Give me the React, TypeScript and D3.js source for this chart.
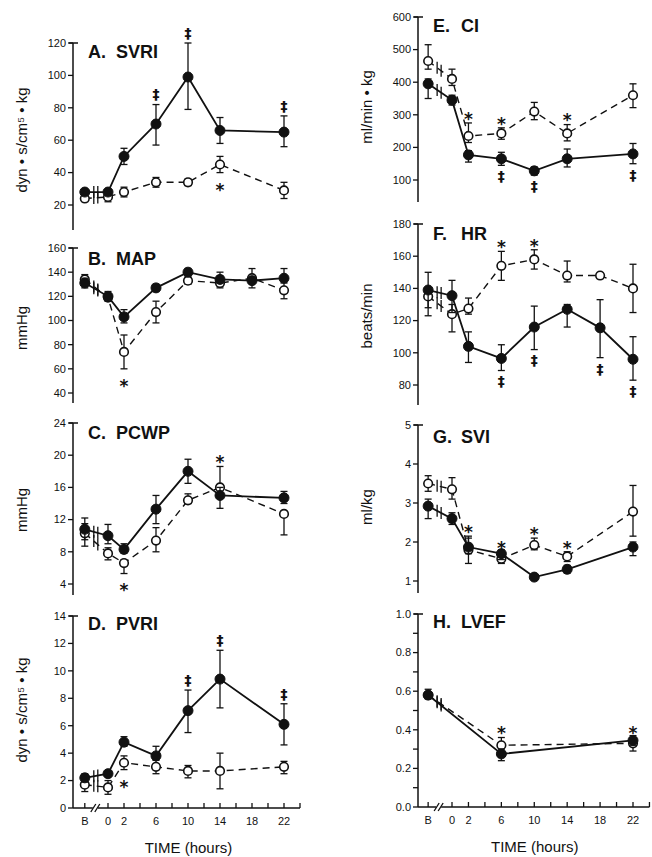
import * as d3 from "d3";

type T = string | number;
type Pt = [T, number, number | null, number | null]; // time, mean, lower, upper
type Note = [string, T, string, string]; // series, time, symbol, side

// ---- data ----
const svriFilled: Pt[] = [["B", 28, null, null], [0, 28, null, null], [2, 50, 45, 55], [6, 70, 57, 82], [10, 99, 79, 120], [14, 66, 58, 74], [22, 65, 56, 75]];
const svriOpen: Pt[] = [["B", 24, null, null], [0, 25, 22, 28], [2, 28, 25, 31], [6, 34, 31, 37], [10, 34, 32, 36], [14, 45, 40, 50], [22, 29, 24, 34]];
const svriNotes: Note[] = [["f", 6, "‡", "up"], ["f", 10, "‡", "up"], ["f", 22, "‡", "up"], ["o", 14, "*", "down"]];

const mapFilled: Pt[] = [["B", 131, 127, 135], [0, 120, 116, 124], [2, 103, 98, 109], [6, 127, 124, 130], [10, 140, 137, 143], [14, 134, 131, 137], [18, 133, null, null], [22, 135, 131, 143]];
const mapOpen: Pt[] = [["B", 134, 129, 138], [0, 119, null, null], [2, 74, 60, 88], [6, 107, 98, 116], [10, 133, 130, 136], [14, 131, 127, 140], [18, 135, 127, 143], [22, 125, 118, 132]];
const mapNotes: Note[] = [["o", 2, "*", "down"]];

const pcwpFilled: Pt[] = [["B", 10.8, 9.5, 12.2], [0, 10, 9, 11.4], [2, 8.3, 7.8, 9], [6, 13.3, 11.5, 15], [10, 18, 16.5, 19.5], [14, 15, 13.4, 16], [22, 14.7, 14, 15.5]];
const pcwpOpen: Pt[] = [["B", 10.3, 8.7, 11.5], [0, 7.8, 7, 8.5], [2, 6.6, 5.3, 7], [6, 9.4, 8, 11], [10, 14.4, 14, 15.2], [14, 16, 14.8, 18.6], [22, 12.7, 10.1, 13]];
const pcwpNotes: Note[] = [["o", 2, "*", "down"], ["o", 14, "*", "up"]];

const pvriFilled: Pt[] = [["B", 2.2, 1.9, 2.5], [0, 2.5, null, null], [2, 4.8, 4.5, 5.2], [6, 3.8, 3.5, 4.5], [10, 7.1, 5.5, 8.6], [14, 9.4, 7.3, 11.5], [22, 6.1, 4.6, 7.6]];
const pvriOpen: Pt[] = [["B", 1.7, 1.2, 2.2], [0, 1.5, 1.0, 2.0], [2, 3.3, 2.8, 3.8], [6, 3.0, 2.5, 3.5], [10, 2.7, 2.2, 3.1], [14, 2.7, 1.4, 4.0], [22, 3.0, 2.5, 3.4]];
const pvriNotes: Note[] = [["o", 2, "*", "down"], ["f", 10, "‡", "up"], ["f", 14, "‡", "up"], ["f", 22, "‡", "up"]];

const ciFilled: Pt[] = [["B", 395, 350, 410], [0, 345, 330, 360], [2, 177, 155, 190], [6, 165, 145, 185], [10, 128, 115, 140], [14, 165, 140, 195], [22, 180, 150, 212]];
const ciOpen: Pt[] = [["B", 465, 440, 515], [0, 410, 390, 440], [2, 235, 215, 275], [6, 243, 225, 260], [10, 310, 285, 338], [14, 243, 220, 270], [22, 360, 322, 395]];
const ciNotes: Note[] = [["o", 2, "*", "up"], ["o", 6, "*", "up"], ["o", 14, "*", "up"], ["f", 6, "‡", "down"], ["f", 10, "‡", "down"], ["f", 22, "‡", "down"]];

const hrFilled: Pt[] = [["B", 139, 128, 150], [0, 135.5, 125, 145], [2, 104, 94, 113], [6, 96.5, 89, 105], [10, 116, 102, 129], [14, 127, 116, 130], [18, 115.5, 97, 133], [22, 96, 83, 110]];
const hrOpen: Pt[] = [["B", 135, 123, 140], [0, 124, 113, 130], [2, 127.5, 124, 134], [6, 154, 145, 163], [10, 158, 152, 164], [14, 148, 144, 157], [18, 148, null, null], [22, 140, 125, 155]];
const hrNotes: Note[] = [["o", 6, "*", "up"], ["o", 10, "*", "up"], ["f", 6, "‡", "down"], ["f", 10, "‡", "down"], ["f", 18, "‡", "down"], ["f", 22, "‡", "down"]];

const sviFilled: Pt[] = [["B", 2.92, 2.6, 3.1], [0, 2.6, 2.45, 2.75], [2, 1.87, 1.7, 2.1], [6, 1.7, 1.55, 1.8], [10, 1.1, null, null], [14, 1.3, 1.2, 1.4], [22, 1.87, 1.65, 2.0]];
const sviOpen: Pt[] = [["B", 3.5, 3.3, 3.7], [0, 3.35, 3.1, 3.65], [2, 1.8, 1.45, 2.15], [6, 1.57, 1.45, 1.75], [10, 1.92, 1.8, 2.1], [14, 1.63, 1.5, 1.75], [22, 2.78, 2.15, 3.45]];
const sviNotes: Note[] = [["o", 2, "*", "up"], ["o", 6, "*", "up"], ["o", 10, "*", "up"], ["o", 14, "*", "up"]];

const lvefFilled: Pt[] = [["B", 0.58, null, null], [6, 0.275, 0.24, 0.3], [22, 0.345, 0.32, 0.37]];
const lvefOpen: Pt[] = [["B", 0.58, 0.56, 0.61], [6, 0.32, 0.28, 0.36], [22, 0.33, 0.29, 0.36]];
const lvefNotes: Note[] = [["o", 6, "*", "up"], ["o", 22, "*", "up"]];

const xTickHours = [0, 2, 4, 6, 8, 10, 12, 14, 16, 18, 20, 22, 24];
const xTickLabels = ["0", "2", "6", "10", "14", "18", "22"];

const FONT = "'Liberation Sans', Arial, Helvetica, sans-serif";

// layout of the two columns
const leftX = d3.scaleLinear().domain([0, 22]).range([108, 284]);
const rightX = d3.scaleLinear().domain([0, 22]).range([452, 633]);
const B_HOUR = -2.9;

const panels = [
  { key: "A", name: "SVRI", xs: leftX, ax: 73, domain: [20, 120], range: [205, 43], bottom: 230, ticks: d3.range(20, 121, 20), minor: [], label: "dyn • s/cm⁵ • kg", labelY: 140, titleY: 58, filled: svriFilled, open: svriOpen, notes: svriNotes, fmt: d3.format("d") },
  { key: "B", name: "MAP", xs: leftX, ax: 73, domain: [40, 160], range: [393, 248], bottom: 403, ticks: d3.range(40, 161, 20), minor: [], label: "mmHg", labelY: 328, titleY: 265, filled: mapFilled, open: mapOpen, notes: mapNotes, fmt: d3.format("d") },
  { key: "C", name: "PCWP", xs: leftX, ax: 73, domain: [4, 24], range: [584, 423], bottom: 595, ticks: d3.range(4, 25, 4), minor: [], label: "mmHg", labelY: 510, titleY: 439, filled: pcwpFilled, open: pcwpOpen, notes: pcwpNotes, fmt: d3.format("d") },
  { key: "D", name: "PVRI", xs: leftX, ax: 73, domain: [0, 14], range: [808, 616], bottom: 808, ticks: d3.range(0, 15, 2), minor: [], label: "dyn • s/cm⁵ • kg", labelY: 710, titleY: 630, filled: pvriFilled, open: pvriOpen, notes: pvriNotes, fmt: d3.format("d"), xaxis: true },
  { key: "E", name: "CI", xs: rightX, ax: 418, domain: [100, 600], range: [180, 17], bottom: 202, ticks: d3.range(100, 601, 100), minor: [], label: "ml/min • kg", labelY: 107, titleY: 32, filled: ciFilled, open: ciOpen, notes: ciNotes, fmt: d3.format("d") },
  { key: "F", name: "HR", xs: rightX, ax: 418, domain: [80, 180], range: [385, 224], bottom: 405, ticks: d3.range(80, 181, 20), minor: [], label: "beats/min", labelY: 316, titleY: 240, filled: hrFilled, open: hrOpen, notes: hrNotes, fmt: d3.format("d") },
  { key: "G", name: "SVI", xs: rightX, ax: 418, domain: [1, 5], range: [581, 425], bottom: 593, ticks: d3.range(1, 6, 1), minor: [], label: "ml/kg", labelY: 507, titleY: 443, filled: sviFilled, open: sviOpen, notes: sviNotes, fmt: d3.format("d") },
  { key: "H", name: "LVEF", xs: rightX, ax: 418, domain: [0, 1], range: [807, 614], bottom: 807, ticks: [0, 0.2, 0.4, 0.6, 0.8, 1.0], minor: [0.1, 0.3, 0.5, 0.7, 0.9], label: "", labelY: 0, titleY: 628, filled: lvefFilled, open: lvefOpen, notes: lvefNotes, fmt: d3.format(".1f"), xaxis: true },
];

function Series({ data, x, y, open }: any) {
  const line = d3.line<Pt>().x((d) => x(d[0])).y((d) => y(d[1]));
  const b = data[0];
  const n = data[1];
  const bx0 = x(b[0]);
  const bx1 = x(n[0]);
  const yAt = (px: number) => y(b[1]) + ((px - bx0) / (bx1 - bx0)) * (y(n[1]) - y(b[1]));
  const breaks = [bx0 + 9, bx0 + 13];
  return (
    <g>
      <path d={line(data) || ""} fill="none" stroke="#111" strokeWidth={open ? 1.4 : 1.8} strokeDasharray={open ? "7,5" : undefined} />
      {breaks.map((bx, i) => (
        <line key={i} x1={bx} x2={bx} y1={yAt(bx) - 6} y2={yAt(bx) + 6} stroke="#111" strokeWidth={1.3} />
      ))}
      {data.map((d: Pt, i: number) => (
        <g key={i}>
          {d[3] != null && (
            <g>
              <line x1={x(d[0])} x2={x(d[0])} y1={y(d[1])} y2={y(d[3])} stroke="#111" strokeWidth={1.3} />
              <line x1={x(d[0]) - 3.5} x2={x(d[0]) + 3.5} y1={y(d[3])} y2={y(d[3])} stroke="#111" strokeWidth={1.3} />
            </g>
          )}
          {d[2] != null && (
            <g>
              <line x1={x(d[0])} x2={x(d[0])} y1={y(d[1])} y2={y(d[2])} stroke="#111" strokeWidth={1.3} />
              <line x1={x(d[0]) - 3.5} x2={x(d[0]) + 3.5} y1={y(d[2])} y2={y(d[2])} stroke="#111" strokeWidth={1.3} />
            </g>
          )}
          <circle cx={x(d[0])} cy={y(d[1])} r={open ? 4.3 : 5} fill={open ? "#fff" : "#111"} stroke="#111" strokeWidth={open ? 1.6 : 1} />
        </g>
      ))}
    </g>
  );
}

function Panel({ p }: any) {
  const y = d3.scaleLinear().domain(p.domain).range(p.range);
  const x = (t: T) => p.xs(t === "B" ? B_HOUR : (t as number));
  const top = p.range[1];
  const find = (s: string, t: T) => (s === "f" ? p.filled : p.open).find((d: Pt) => d[0] === t) as Pt;
  const xAxisY = p.range[0];
  return (
    <g fontFamily={FONT}>
      {/* y axis */}
      <line x1={p.ax} x2={p.ax} y1={top} y2={p.bottom} stroke="#111" strokeWidth={1.5} />
      <line x1={p.ax - 4} x2={p.ax + 5} y1={top} y2={top} stroke="#111" strokeWidth={1.5} />
      {p.ticks.map((t: number) => (
        <g key={t}>
          <line x1={p.ax - 5} x2={p.ax} y1={y(t)} y2={y(t)} stroke="#111" strokeWidth={1.3} />
          <text x={p.ax - 7} y={y(t)} dy="0.35em" textAnchor="end" fontSize={11} fill="#111">{p.fmt(t)}</text>
        </g>
      ))}
      {p.minor.map((t: number) => (
        <line key={t} x1={p.ax - 5} x2={p.ax} y1={y(t)} y2={y(t)} stroke="#111" strokeWidth={1.3} />
      ))}
      {p.label && (
        <text transform={`translate(${p.ax - 51},${p.labelY}) rotate(-90)`} textAnchor="middle" dy="0.35em" fontSize={15} fill="#111">{p.label}</text>
      )}
      <text x={p.ax + 15} y={p.titleY} fontSize={18} fontWeight="bold" fill="#111">{p.key + "."}</text>
      <text x={p.ax + 43} y={p.titleY} fontSize={18} fontWeight="bold" fill="#111">{p.name}</text>

      {p.xaxis && (
        <g>
          <line x1={p.ax} x2={x(B_HOUR) + 8} y1={xAxisY} y2={xAxisY} stroke="#111" strokeWidth={1.5} />
          <line x1={x(B_HOUR) + 13} x2={x(24)} y1={xAxisY} y2={xAxisY} stroke="#111" strokeWidth={1.5} />
          <line x1={x(B_HOUR) + 6} x2={x(B_HOUR) + 11} y1={xAxisY + 4} y2={xAxisY - 4} stroke="#111" strokeWidth={1.3} />
          <line x1={x(B_HOUR) + 10} x2={x(B_HOUR) + 15} y1={xAxisY + 4} y2={xAxisY - 4} stroke="#111" strokeWidth={1.3} />
          {["B", ...xTickHours].map((t) => (
            <line key={String(t)} x1={x(t)} x2={x(t)} y1={xAxisY} y2={xAxisY - 5} stroke="#111" strokeWidth={1.3} />
          ))}
          {["B", ...xTickLabels].map((t) => (
            <text key={t} x={x(t === "B" ? "B" : +t)} y={xAxisY + 17} textAnchor="middle" fontSize={11} fill="#111">{t}</text>
          ))}
          <text x={(x(B_HOUR) + x(24)) / 2 - 4} y={xAxisY + 45} textAnchor="middle" fontSize={15} fill="#111">TIME (hours)</text>
        </g>
      )}

      <Series data={p.open} x={x} y={y} open />
      <Series data={p.filled} x={x} y={y} />

      {p.notes.map((nt: Note, i: number) => {
        const d = find(nt[0], nt[1]);
        const yy = nt[3] === "up" ? y(d[3] ?? d[1]) - 10 : y(d[2] ?? d[1]) + 11;
        return (
          <text key={i} x={x(d[0])} y={yy} dy={nt[2] === "*" ? "0.7em" : "0.35em"} textAnchor="middle" fontSize={nt[2] === "*" ? 17 : 14} fontWeight="bold" fontFamily="'DejaVu Sans', sans-serif" fill="#111">{nt[2]}</text>
        );
      })}
    </g>
  );
}

export default function App() {
  return (
    <svg width={652} height={857} style={{ position: "absolute", left: 0, top: 0, background: "#fff" }}>
      {panels.map((p) => (
        <Panel key={p.key} p={p} />
      ))}
    </svg>
  );
}
